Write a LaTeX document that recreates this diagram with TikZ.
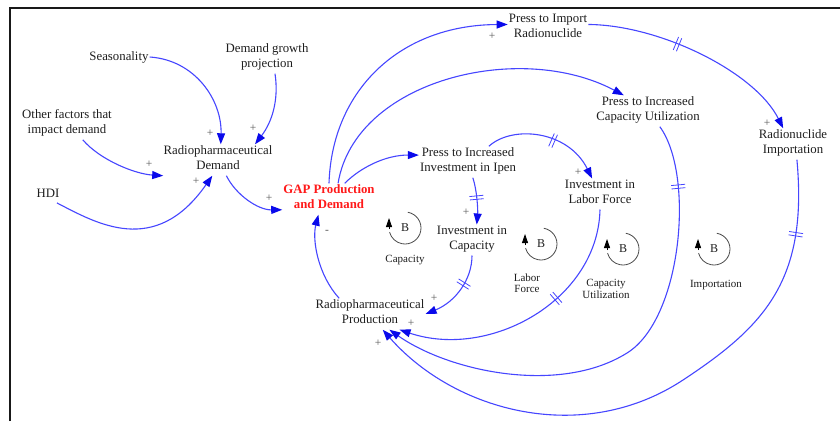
\documentclass[tikz,border=0pt]{standalone}
\usepackage{fontspec}
\setmainfont{Liberation Serif}
\usetikzlibrary{arrows.meta,decorations.markings}
\definecolor{lnk}{RGB}{70,70,255}
\definecolor{tipc}{RGB}{10,10,235}
\definecolor{txt}{RGB}{30,30,30}
\definecolor{gapred}{RGB}{255,25,25}
\newcommand{\mainsize}{\fontsize{12.8pt}{15.5pt}\selectfont}
\newcommand{\lblsize}{\fontsize{11pt}{11.5pt}\selectfont}
\begin{document}
\begin{tikzpicture}[x=1pt,y=-1pt,
  var/.style={inner sep=1pt, align=center, text=txt, font=\mainsize,
    execute at begin node=\strut, execute at end node=\strut},
  sgn/.style={inner sep=0pt, text=black!65, font=\fontsize{11.5pt}{11.5pt}\selectfont},
  conn/.style={draw=lnk, line width=1.1pt, -{Triangle[length=11pt,width=8pt,color=tipc]}},
  delaymark/.style={postaction={decorate,decoration={markings,
    mark=at position #1 with {\draw[-,draw=lnk,line width=0.8pt] (-1.7pt,-7pt)--(-1.7pt,7pt) (1.7pt,-7pt)--(1.7pt,7pt);}}}},
  loopline/.style={draw=black!70, line width=0.8pt},
  looptip/.style={-{Triangle[length=9pt,width=6pt,color=black]}, draw=black, line width=0.8pt},
  bnode/.style={inner sep=0pt, text=txt, font=\fontsize{12pt}{12pt}\selectfont},
  looplbl/.style={inner sep=0pt, align=center, text=txt, font=\lblsize}
]
\useasboundingbox (0,0) rectangle (840,421);
\fill[white] (0,0) rectangle (840,421);
\draw[line width=2.6pt, black!90] (10,421) -- (10,8) -- (840,8);

% variables
\node[var] (seas) at (119,57) {Seasonality};
\node[var] (grow) at (267,58) {Demand growth\\projection};
\node[var] (other) at (67,124) {Other factors that\\impact demand};
\node[var] (hdi) at (48,194) {HDI};
\node[var] (dem) at (218,160) {Radiopharmaceutical\\Demand};
\node[var, text=gapred, font=\mainsize\bfseries] (gap) at (329,199) {GAP Production\\and Demand};
\node[var] (imp) at (548,28) {Press to Import\\Radionuclide};
\node[var] (util) at (648,111) {Press to Increased\\Capacity Utilization};
\node[var] (radimp) at (793,144) {Radionuclide\\Importation};
\node[var] (ipen) at (468,162) {Press to Increased\\Investment in Ipen};
\node[var] (labor) at (600,194) {Investment in\\Labor Force};
\node[var] (cap) at (472,240) {Investment in\\Capacity};
\node[var] (prod) at (370,314) {Radiopharmaceutical\\Production};

% connectors
\draw[conn] (seas.east) .. controls (195,60) and (222,100) .. (dem.80);
\draw[conn] (grow.-63) .. controls (279,100) and (272,122) .. (dem.23);
\draw[conn] (other.-45) .. controls (100,160) and (135,174) .. (dem.196);
\draw[conn] (hdi.-45) .. controls (96,223) and (155,258) .. (dem.250);
\draw[conn] (dem.-62) .. controls (236,195) and (258,210) .. (gap.193);
\draw[conn] (gap.north) .. controls (332,90) and (400,25) .. (imp.175);
\draw[conn] (gap.60) .. controls (355,80) and (520,40) .. (util.147);
\draw[conn] (gap.45) .. controls (360,168) and (385,155) .. (ipen.172);
\draw[conn,delaymark=0.4] (imp.5) .. controls (660,25) and (755,72) .. (radimp.122);
\draw[conn,delaymark=0.55] (ipen.37) .. controls (512,125) and (568,130) .. (labor.117);
\draw[conn,delaymark=0.43] (ipen.-73) .. controls (477,190) and (478,210) .. (cap.73);
\draw[conn,delaymark=0.38] (cap.south) .. controls (472,280) and (455,302) .. (prod.east);
\draw[conn,delaymark=0.38] (labor.south) .. controls (598,300) and (490,360) .. (prod.-28);
\draw[conn,delaymark=0.128] (util.-53) .. controls (695,175) and (682,319) .. (627,353)
   .. controls (560,395) and (450,372) .. (prod.-39);
\draw[conn,delaymark=0.125] (radimp.-76) .. controls (808,280) and (765,326) .. (683,380)
   .. controls (583,446) and (455,412) .. (prod.-51);
\draw[conn] (prod.153) .. controls (318,275) and (312,240) .. (gap.236);

% polarity signs
\node[sgn] (p1) at (210,133) {+};
\node[sgn] (p2) at (253,128) {+};
\node[sgn] (p3) at (149,164) {+};
\node[sgn] (p4) at (196,181) {+};
\node[sgn] (p5) at (269,198) {+};
\node[sgn] (p6) at (492,36) {+};
\node[sgn] (p7) at (767,123) {+};
\node[sgn] (p8) at (578,172) {+};
\node[sgn] (p9) at (466,212) {+};
\node[sgn] (p10) at (434,298) {+};
\node[sgn] (p11) at (411,323) {+};
\node[sgn] (p12) at (378,343) {+};
\node[sgn] (m1) at (327,232) {-};

% loop symbols
\begin{scope}[shift={(405,228)}, y=1pt]
  \draw[loopline] (80:16) arc[start angle=80, end angle=-165, radius=16];
  \draw[looptip] (-16,-1) -- (-16,10);
  \node[bnode] (bcap) at (0,0) {B};
\end{scope}
\begin{scope}[shift={(541,244)}, y=1pt]
  \draw[loopline] (80:16) arc[start angle=80, end angle=-165, radius=16];
  \draw[looptip] (-16,-1) -- (-16,10);
  \node[bnode] (blab) at (0,0) {B};
\end{scope}
\begin{scope}[shift={(623,249)}, y=1pt]
  \draw[loopline] (80:16) arc[start angle=80, end angle=-165, radius=16];
  \draw[looptip] (-16,-1) -- (-16,10);
  \node[bnode] (butil) at (0,0) {B};
\end{scope}
\begin{scope}[shift={(714,249)}, y=1pt]
  \draw[loopline] (80:16) arc[start angle=80, end angle=-165, radius=16];
  \draw[looptip] (-16,-1) -- (-16,10);
  \node[bnode] (bimp) at (0,0) {B};
\end{scope}
\node[looplbl] (lcap) at (405,260) {Capacity};
\node[looplbl] (llab) at (527,283) {Labor\\Force};
\node[looplbl] (lutil) at (606,289) {Capacity\\Utilization};
\node[looplbl] (limp) at (716,285) {Importation};
\end{tikzpicture}
\end{document}
